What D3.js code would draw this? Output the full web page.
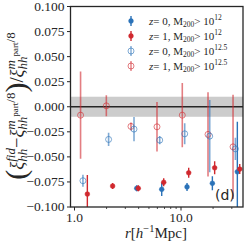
<!DOCTYPE html>
<html>
<head>
<meta charset="utf-8">
<script src="https://cdn.jsdelivr.net/npm/d3@7"></script>
<style>
  body { margin: 0; background: #fff; }
  text { font-family: "Liberation Serif", serif; fill: #262626; }
</style>
</head>
<body>
<div class="chart"></div>
<script>
// r positions and ratio values
var rRedOpen = [1.14, 1.99, 3.39, 5.95, 10.28, 17.93, 30.8];
var vRedOpen = [-0.0084, 0.0009, -0.0196, -0.020, -0.0084, -0.0276, -0.040];
var eRedOpen = [0.0435, 0.0105, 0.004, 0.0247, 0.032, 0.042, 0.052];

var rBlueOpen = [1.20, 2.09, 3.62, 6.31, 10.83, 18.6, 32.4];
var vBlueOpen = [-0.0738, -0.0326, -0.0223, -0.0333, -0.027, -0.0293, -0.042];
var eBlueOpen = [0.006, 0.0066, 0.012, 0.004, 0.0105, 0.036, 0.011];

var rRedFill = [1.32, 2.28, 3.97, 6.88, 11.81, 20.7, 35.6];
var vRedFill = [-0.0871, -0.0791, -0.0814, -0.0754, -0.0659, -0.0609, -0.0622];
var eRedFill = [0.019, 0.003, 0.003, 0.004, 0.005, 0.0065, 0.005];

var rBlueFill = [3.84, 6.59, 11.39, 19.7, 33.8];
var vBlueFill = [-0.0814, -0.0824, -0.080, -0.0764, -0.0649];
var eBlueFill = [0.003, 0.0067, 0.004, 0.007, 0.05];

var yTicks = [-0.1, -0.075, -0.05, -0.025, 0, 0.025, 0.05, 0.075, 0.1];
var xTicks = [1, 10];
var xMinor = [2, 3, 4, 5, 6, 7, 8, 9, 20, 30];

var blue = "#2a72b8", red = "#d0282e";

var W = 249, H = 243;
var L = 70.5, R = 243, T = 6.5, B = 207;

var svg = d3.select(".chart").append("svg")
    .attr("width", W).attr("height", H);

var x = d3.scaleLog().domain([0.917, 38.2]).range([L, R]);
var y = d3.scaleLinear().domain([-0.1, 0.1]).range([B, T]);

svg.append("clipPath").attr("id", "clip")
    .append("rect").attr("x", L).attr("y", T).attr("width", R - L).attr("height", B - T);

var plot = svg.append("g").attr("clip-path", "url(#clip)");

// grey band + zero line
plot.append("rect")
    .attr("x", L).attr("width", R - L)
    .attr("y", y(0.01)).attr("height", y(-0.01) - y(0.01))
    .attr("fill", "#cccccc");
plot.append("line")
    .attr("x1", L).attr("x2", R).attr("y1", y(0)).attr("y2", y(0))
    .attr("stroke", "#262626").attr("stroke-width", 1.3);

function drawSeries(rs, vs, es, color, open) {
    var g = plot.append("g");
    var op = open ? 0.6 : 1;
    rs.forEach(function (r, i) {
        g.append("line")
            .attr("x1", x(r)).attr("x2", x(r))
            .attr("y1", y(vs[i] - es[i])).attr("y2", y(vs[i] + es[i]))
            .attr("stroke", color).attr("stroke-opacity", op)
            .attr("stroke-width", open ? 1.6 : 1.4);
        g.append("circle")
            .attr("cx", x(r)).attr("cy", y(vs[i]))
            .attr("r", open ? 3 : 2.4)
            .attr("fill", open ? "none" : color)
            .attr("stroke", color).attr("stroke-opacity", op)
            .attr("stroke-width", open ? 1 : 0.5);
    });
}
drawSeries(rRedOpen, vRedOpen, eRedOpen, red, true);
drawSeries(rBlueOpen, vBlueOpen, eBlueOpen, blue, true);
drawSeries(rBlueFill, vBlueFill, eBlueFill, blue, false);
drawSeries(rRedFill, vRedFill, eRedFill, red, false);

// frame
svg.append("rect")
    .attr("x", L).attr("y", T).attr("width", R - L).attr("height", B - T)
    .attr("fill", "none").attr("stroke", "#262626").attr("stroke-width", 1.3);

// y ticks
var yg = svg.append("g");
yTicks.forEach(function (t) {
    yg.append("line").attr("x1", L - 3.5).attr("x2", L).attr("y1", y(t)).attr("y2", y(t))
        .attr("stroke", "#262626").attr("stroke-width", 1);
    yg.append("text").attr("x", L - 6).attr("y", y(t)).attr("dy", "0.33em")
        .attr("text-anchor", "end").attr("font-size", 13.5)
        .text(d3.format(".3f")(t));
});

// x ticks
var xg = svg.append("g");
xTicks.forEach(function (t) {
    xg.append("line").attr("x1", x(t)).attr("x2", x(t)).attr("y1", B).attr("y2", B + 3.5)
        .attr("stroke", "#262626").attr("stroke-width", 1);
    xg.append("text").attr("x", x(t)).attr("y", B + 15)
        .attr("text-anchor", "middle").attr("font-size", 13.5)
        .text(d3.format(".1f")(t));
});
xMinor.forEach(function (t) {
    xg.append("line").attr("x1", x(t)).attr("x2", x(t)).attr("y1", B).attr("y2", B + 2)
        .attr("stroke", "#262626").attr("stroke-width", 0.8);
});

// rich text: pieces laid out left to right, measured in the browser
function richText(g, pieces, anchorMid) {
    var cx = 0, prevStart = 0, prevW = 0;
    var nodes = [];
    pieces.forEach(function (p) {
        var t = g.append("text")
            .attr("font-size", p.size)
            .attr("font-style", p.it ? "italic" : "normal")
            .text(p.s);
        var w = t.node().getComputedTextLength();
        var x0 = p.stack ? prevStart : cx;
        t.attr("x", x0).attr("y", p.dy || 0);
        if (p.stack) {
            cx = Math.max(prevStart + prevW, x0 + w);
        } else {
            cx = x0 + w;
            prevStart = x0; prevW = w;
        }
        nodes.push(t);
    });
    if (anchorMid) {
        nodes.forEach(function (t) { t.attr("x", +t.attr("x") - cx / 2); });
    }
    return cx;
}

// x label
var xl = svg.append("g").attr("transform", "translate(156," + (B + 31) + ")");
richText(xl, [
    { s: "r", size: 15, it: true },
    { s: "[", size: 15 },
    { s: "h", size: 15, it: true },
    { s: "\u22121", size: 10.5, dy: -6 },
    { s: "Mpc]", size: 15 }
], true);

// y label
var fs = 18.5, fss = 13, fsss = 9;
function xiPart(sup) {
    var a = [
        { s: "\u03be", size: fs, it: true },
        { s: "hh", size: fss, it: true, dy: 4 }
    ];
    if (sup === "fid") {
        a.push({ s: "fid", size: fss, it: true, dy: -8, stack: true });
    } else {
        a.push({ s: "m", size: fss, it: true, dy: -8, stack: true });
        a.push({ s: "part", size: fsss, dy: -5.5 });
        a.push({ s: "/8", size: fss, dy: -8 });
    }
    return a;
}
var ylab = svg.append("g").attr("transform", "translate(23,106) rotate(-90)");
var pcs = [{ s: "(", size: 30, dy: 3 }]
    .concat(xiPart("fid"))
    .concat([{ s: " \u2212 ", size: fs }])
    .concat(xiPart("m"))
    .concat([{ s: ")", size: 30, dy: 3 }, { s: "/", size: fs }])
    .concat(xiPart("m"));
richText(ylab, pcs, true);

// legend
var legItems = [
    { c: blue, open: false, z: "0", m: "12" },
    { c: red, open: false, z: "1", m: "12" },
    { c: blue, open: true, z: "0", m: "12.5" },
    { c: red, open: true, z: "1", m: "12.5" }
];
legItems.forEach(function (d, i) {
    var ly = 21 + i * 15;
    var op = d.open ? 0.6 : 1;
    svg.append("line").attr("x1", 131).attr("x2", 131).attr("y1", ly - 5).attr("y2", ly + 5)
        .attr("stroke", d.c).attr("stroke-opacity", op).attr("stroke-width", 1.4);
    svg.append("circle").attr("cx", 131).attr("cy", ly).attr("r", d.open ? 3 : 2.4)
        .attr("fill", d.open ? "none" : d.c).attr("stroke", d.c)
        .attr("stroke-opacity", op).attr("stroke-width", d.open ? 1 : 0.5);
    var tg = svg.append("g").attr("transform", "translate(149," + (ly + 3.5) + ")");
    richText(tg, [
        { s: "z", size: 11, it: true },
        { s: " = " + d.z + ", M", size: 11 },
        { s: "200", size: 7.5, dy: 2.5 },
        { s: " > 10", size: 11 },
        { s: d.m, size: 7.5, dy: -4.5 }
    ], false);
});

// panel label
svg.append("text").attr("x", 215).attr("y", 200)
    .style("font-family", "'DejaVu Sans', sans-serif").attr("font-size", 14)
    .text("(d)");
</script>
</body>
</html>
